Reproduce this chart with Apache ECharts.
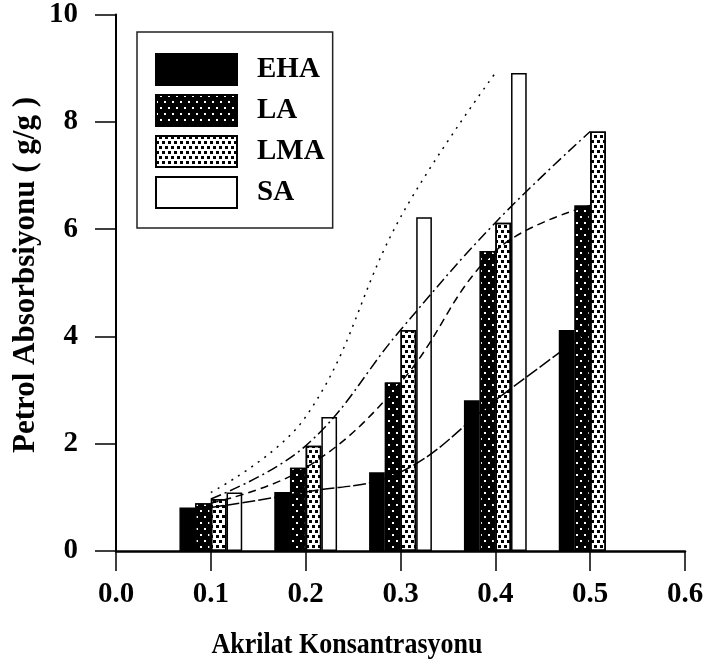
<!DOCTYPE html>
<html>
<head>
<meta charset="utf-8">
<script src="https://cdn.jsdelivr.net/npm/echarts@6/dist/echarts.min.js"></script>
<style>
  html, body { margin: 0; padding: 0; background: #fff; }
  #chart { width: 708px; height: 668px; }
</style>
</head>
<body>
<div id="chart"></div>
<script>
// Acrylate concentration (x positions of each bar group)
const concentrations = [0.1, 0.2, 0.3, 0.4, 0.5];
// Oil absorption (g/g) per sorbent
const ehaValues = [0.81, 1.10, 1.47, 2.81, 4.12];
const laValues  = [0.89, 1.55, 3.14, 5.59, 6.44];
const lmaValues = [0.97, 1.96, 4.12, 6.12, 7.82];
const saValues  = [1.09, 2.50, 6.22, 8.91, null];
const seriesNames = ['EHA', 'LA', 'LMA', 'SA'];
const xTicks = [0.0, 0.1, 0.2, 0.3, 0.4, 0.5, 0.6];
const yTicks = [0, 2, 4, 6, 8, 10];

const FONT = '"Liberation Serif", "Times New Roman", serif';
const INK = '#000';

function pairs(values) {
  return concentrations
    .map((x, i) => [x, values[i]])
    .filter(p => p[1] !== null);
}

const allValues = [ehaValues, laValues, lmaValues, saValues];

// solid black, black with white specks, white with black checks, plain white
const barStyles = [
  { color: '#000', borderColor: '#000', borderWidth: 1.5 },
  { color: '#000', borderColor: '#000', borderWidth: 1.5,
    decal: { symbol: 'rect', symbolSize: 1, color: '#fff',
             dashArrayX: [[2, 6], [0, 4, 2, 2]], dashArrayY: [2, 4] } },
  { color: '#fff', borderColor: '#000', borderWidth: 1.5,
    decal: { symbol: 'rect', symbolSize: 1, color: '#000',
             dashArrayX: [[3, 3], [0, 3, 3, 0]], dashArrayY: [3, 1.5] } },
  { color: '#fff', borderColor: '#000', borderWidth: 1.5 }
];

// trend curve dash patterns: long dash, dash, dash-dot, dotted
const lineDash = [[13, 3], [8, 5], [11, 4, 2, 4], [2, 6]];

const barSeries = seriesNames.map((name, i) => ({
  name: name,
  type: 'bar',
  data: pairs(allValues[i]),
  barWidth: 15.7,
  barGap: '0%',
  itemStyle: barStyles[i],
  z: 2,
  animation: false
}));

const lineSeries = seriesNames.map((name, i) => ({
  name: name + ' eğilim',
  type: 'line',
  data: pairs(allValues[i]),
  smooth: 0.4,
  showSymbol: false,
  symbol: 'none',
  lineStyle: { color: '#000', width: 1.5, type: lineDash[i] },
  z: 4,
  animation: false
}));

const option = {
  backgroundColor: '#fff',
  animation: false,
  grid: { left: 116, right: 23, top: 14, bottom: 117 },
  legend: {
    data: seriesNames,
    orient: 'vertical',
    left: 137,
    top: 32,
    padding: [21, 8, 19, 18],
    icon: 'rect',
    itemWidth: 81,
    itemHeight: 31,
    itemGap: 8,
    borderColor: '#222',
    borderWidth: 1.5,
    backgroundColor: '#fff',
    selectedMode: false,
    textStyle: { fontFamily: FONT, fontWeight: 'bold', fontSize: 29, color: INK, padding: [0, 0, 0, 15] },
    z: 10
  },
  xAxis: {
    type: 'value',
    min: xTicks[0],
    max: xTicks[xTicks.length - 1],
    interval: 0.1,
    splitLine: { show: false },
    axisLine: { show: true, lineStyle: { color: '#000', width: 2.5 } },
    axisTick: { show: true, inside: false, length: 20, lineStyle: { color: '#000', width: 1.5 } },
    axisLabel: {
      margin: 29,
      fontFamily: FONT, fontWeight: 'bold', fontSize: 29, color: INK,
      formatter: v => v.toFixed(1)
    }
  },
  yAxis: {
    type: 'value',
    min: yTicks[0],
    max: yTicks[yTicks.length - 1],
    interval: 2,
    splitLine: { show: false },
    axisLine: { show: true, lineStyle: { color: '#000', width: 2 } },
    axisTick: { show: true, inside: false, length: 21, lineStyle: { color: '#000', width: 1.5 } },
    axisLabel: {
      margin: 38,
      fontFamily: FONT, fontWeight: 'bold', fontSize: 29, color: INK
    }
  },
  graphic: [
    {
      type: 'text',
      x: 347, y: 645,
      scaleY: 1.15,
      style: {
        text: 'Akrilat Konsantrasyonu',
        font: 'bold 26px ' + FONT,
        fill: INK,
        align: 'center',
        verticalAlign: 'middle'
      }
    },
    {
      type: 'text',
      x: 26, y: 275,
      rotation: Math.PI / 2,
      style: {
        text: 'Petrol Absorbsiyonu ( g/g )',
        font: 'bold 31px ' + FONT,
        fill: INK,
        align: 'center',
        verticalAlign: 'middle'
      }
    }
  ],
  series: barSeries.concat(lineSeries)
};

const chart = echarts.init(document.getElementById('chart'), null, { renderer: 'canvas' });
chart.setOption(option);
</script>
</body>
</html>
